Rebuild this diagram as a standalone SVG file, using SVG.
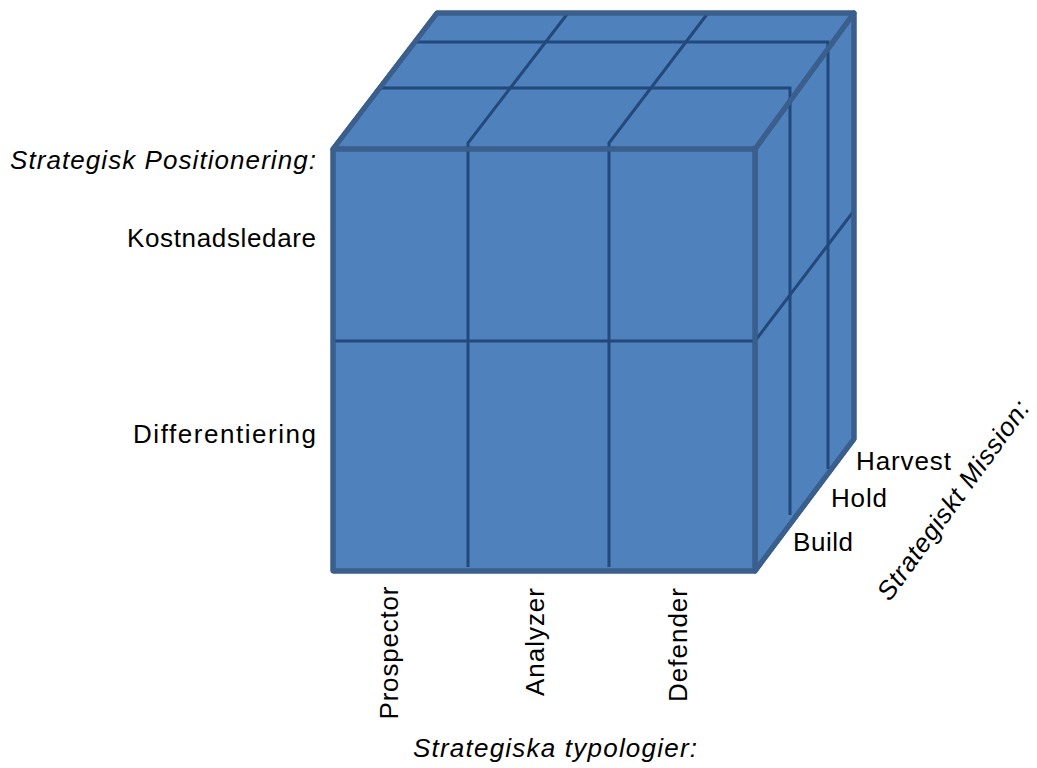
<svg xmlns="http://www.w3.org/2000/svg" width="1037" height="768" viewBox="0 0 1037 768">
  <style>
    .face { fill: #4F81BD; stroke: #3A5F8D; stroke-width: 5; stroke-linejoin: round; }
    .grid { fill: none; stroke: #23497C; stroke-width: 3; stroke-linejoin: miter; }
    .lbl { font-family: "Liberation Sans", Arial, sans-serif; font-size: 26px; fill: #000; }
    .axis { font-style: italic; }
  </style>

  <!-- cube body -->
  <g id="cube">
    <polygon class="face" points="755,149 854,13 854,439 755,571"/>
    <polygon class="face" points="333,149 437,13 854,13 755,149"/>
    <rect class="face" x="333" y="149" width="422" height="422"/>
  </g>

  <!-- dividing lines on the cube faces -->
  <g id="connectors">
    <polyline class="grid" points="468,567 468,143 568,13"/>
    <polyline class="grid" points="609,567 609,143 708,13"/>
    <polyline class="grid" points="415,42 828,42 828,469"/>
    <polyline class="grid" points="380,88 790,88 790,515"/>
    <polyline class="grid" points="335,341 755,341 853,212"/>
  </g>

  <!-- cube edges drawn over the grid -->
  <g id="edges" fill="none" stroke="#3A5F8D" stroke-width="5" stroke-linejoin="round">
    <polyline points="333,571 333,149 437,13 854,13 854,439 755,571 333,571"/>
    <polyline points="333,149 755,149 854,13"/>
    <line x1="755" y1="149" x2="755" y2="571"/>
  </g>

  <!-- strategic positioning axis -->
  <g id="positioning">
    <text class="lbl axis" x="316" y="169" text-anchor="end" textLength="306">Strategisk Positionering:</text>
    <text class="lbl" x="316" y="247" text-anchor="end" textLength="189">Kostnadsledare</text>
    <text class="lbl" x="316" y="443" text-anchor="end" textLength="183">Differentiering</text>
  </g>

  <!-- strategic typologies axis -->
  <g id="typologies">
    <text class="lbl" transform="translate(398,653) rotate(-90)" text-anchor="middle" textLength="133">Prospector</text>
    <text class="lbl" transform="translate(544,642) rotate(-90)" text-anchor="middle" textLength="108">Analyzer</text>
    <text class="lbl" transform="translate(687,645) rotate(-90)" text-anchor="middle" textLength="114">Defender</text>
    <text class="lbl axis" x="555" y="757" text-anchor="middle" textLength="284">Strategiska typologier:</text>
  </g>

  <!-- strategic mission axis -->
  <g id="mission">
    <text class="lbl" x="856" y="470" textLength="95">Harvest</text>
    <text class="lbl" x="831" y="507" textLength="56">Hold</text>
    <text class="lbl" x="793" y="551" textLength="60">Build</text>
    <text class="lbl axis" transform="translate(953,500) rotate(-54)" text-anchor="middle" dominant-baseline="central" textLength="240">Strategiskt Mission:</text>
  </g>
</svg>
